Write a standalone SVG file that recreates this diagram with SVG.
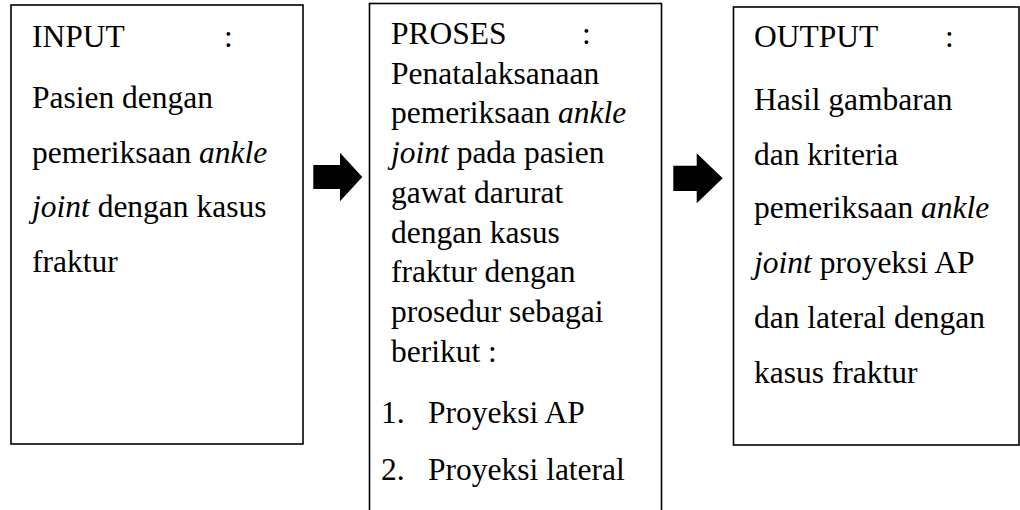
<svg xmlns="http://www.w3.org/2000/svg" width="1020" height="510" viewBox="0 0 1020 510">
<style>
.box{fill:#fff;stroke:#000;stroke-width:1.6}
.t{font-family:"Liberation Serif","Times New Roman",serif;font-size:31.5px;fill:#000}
.i{font-style:italic}
.arr{fill:#000}
</style>
<rect width="1020" height="510" fill="#fff"/>
<g id="input">
<rect class="box" x="11" y="5" width="292" height="439"/>
<text class="t" x="32" y="47">INPUT</text>
<text class="t" x="224" y="47">:</text>
<text class="t" x="32" y="108">Pasien dengan</text>
<text class="t" x="32" y="163">pemeriksaan <tspan class="i">ankle</tspan></text>
<text class="t" x="32" y="217"><tspan class="i">joint</tspan> dengan kasus</text>
<text class="t" x="32" y="272">fraktur</text>
</g>
<g id="proses">
<rect class="box" x="369.5" y="3.5" width="292" height="520"/>
<text class="t" x="391" y="44">PROSES</text>
<text class="t" x="582" y="44">:</text>
<text class="t" x="391" y="83.7">Penatalaksanaan</text>
<text class="t" x="391" y="123.4">pemeriksaan <tspan class="i">ankle</tspan></text>
<text class="t" x="391" y="163.1"><tspan class="i">joint</tspan> pada pasien</text>
<text class="t" x="391" y="202.8">gawat darurat</text>
<text class="t" x="391" y="242.5">dengan kasus</text>
<text class="t" x="391" y="282.2">fraktur dengan</text>
<text class="t" x="391" y="321.9">prosedur sebagai</text>
<text class="t" x="391" y="361.6">berikut :</text>
<text class="t" x="381" y="423">1.</text>
<text class="t" x="428" y="423">Proyeksi AP</text>
<text class="t" x="381" y="480">2.</text>
<text class="t" x="428" y="480">Proyeksi lateral</text>
</g>
<g id="output">
<rect class="box" x="733.5" y="7" width="285.5" height="438"/>
<text class="t" x="754" y="47">OUTPUT</text>
<text class="t" x="945" y="47">:</text>
<text class="t" x="754" y="110">Hasil gambaran</text>
<text class="t" x="754" y="165">dan kriteria</text>
<text class="t" x="754" y="218">pemeriksaan <tspan class="i">ankle</tspan></text>
<text class="t" x="754" y="273"><tspan class="i">joint</tspan> proyeksi AP</text>
<text class="t" x="754" y="328">dan lateral dengan</text>
<text class="t" x="754" y="383">kasus fraktur</text>
</g>
<g id="connectors">
<polygon class="arr" points="313.3,165 340,165 340,152.7 362.3,177 340,201.3 340,189 313.3,189"/>
<polygon class="arr" points="673.3,165.7 696.7,165.7 696.7,153.3 722.7,178.3 696.7,203.3 696.7,191 673.3,191"/>
</g>
</svg>
